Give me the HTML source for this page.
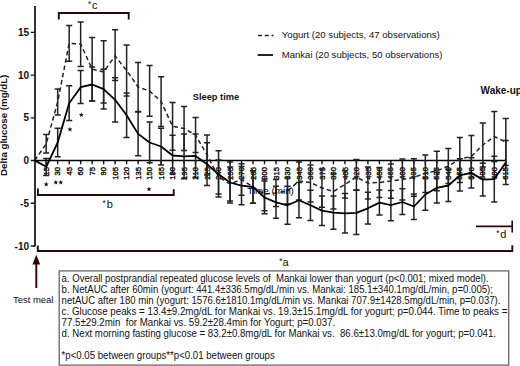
<!DOCTYPE html>
<html><head><meta charset="utf-8"><style>
html,body{margin:0;padding:0;background:#fff;}
body{width:520px;height:366px;overflow:hidden;position:relative;}
svg{position:absolute;left:0;top:0;font-family:"Liberation Sans",sans-serif;}
text{white-space:pre;}
</style></head><body>
<svg width="520" height="366" viewBox="0 0 520 366">
<g stroke="#000" stroke-width="1.6" fill="none">
<path d="M35 6V246.6M34.2 160.5H505.6"/>
</g>
<g stroke="#111" stroke-width="1.4" fill="none"><path d="M30.8 32.40H35M30.8 75.12H35M30.8 117.84H35M30.8 160.56H35M30.8 203.28H35M30.8 246.00H35M46.19 160.4V164.3M57.68 160.4V164.3M69.17 160.4V164.3M80.66 160.4V164.3M92.15 160.4V164.3M103.64 160.4V164.3M115.13 160.4V164.3M126.62 160.4V164.3M138.11 160.4V164.3M149.60 160.4V164.3M161.09 160.4V164.3M172.58 160.4V164.3M184.07 160.4V164.3M195.56 160.4V164.3M207.05 160.4V164.3M218.54 160.4V164.3M230.03 160.4V164.3M241.52 160.4V164.3M253.01 160.4V164.3M264.50 160.4V164.3M275.99 160.4V164.3M287.48 160.4V164.3M298.97 160.4V164.3M310.46 160.4V164.3M321.95 160.4V164.3M333.44 160.4V164.3M344.93 160.4V164.3M356.42 160.4V164.3M367.91 160.4V164.3M379.40 160.4V164.3M390.89 160.4V164.3M402.38 160.4V164.3M413.87 160.4V164.3M425.36 160.4V164.3M436.85 160.4V164.3M448.34 160.4V164.3M459.83 160.4V164.3M471.32 160.4V164.3M482.81 160.4V164.3M494.30 160.4V164.3M505.79 160.4V164.3"/></g>
<g font-weight="bold" font-size="10" fill="#111">
<text x="29" y="36.00" text-anchor="end">15</text>
<text x="29" y="78.72" text-anchor="end">10</text>
<text x="29" y="121.44" text-anchor="end">5</text>
<text x="29" y="164.16" text-anchor="end">0</text>
<text x="29" y="206.88" text-anchor="end">-5</text>
<text x="29" y="249.60" text-anchor="end">-10</text>
<text transform="translate(6.5,125.3) rotate(-90)" text-anchor="middle" font-size="9.7">Delta glucose (mg/dL)</text>
<text x="192.8" y="99.5" textLength="46.4" lengthAdjust="spacingAndGlyphs" font-size="9.6">Sleep time</text>
<text x="480.6" y="94" font-size="10">Wake-up</text>
</g>
<g font-size="7.6" fill="#111" stroke="#111" stroke-width="0.4">
<text transform="translate(48.79,167) rotate(-90)" text-anchor="end">15</text>
<text transform="translate(60.28,167) rotate(-90)" text-anchor="end">30</text>
<text transform="translate(71.77,167) rotate(-90)" text-anchor="end">45</text>
<text transform="translate(83.26,167) rotate(-90)" text-anchor="end">60</text>
<text transform="translate(94.75,167) rotate(-90)" text-anchor="end">75</text>
<text transform="translate(106.24,167) rotate(-90)" text-anchor="end">90</text>
<text transform="translate(117.73,167) rotate(-90)" text-anchor="end">105</text>
<text transform="translate(129.22,167) rotate(-90)" text-anchor="end">120</text>
<text transform="translate(140.71,167) rotate(-90)" text-anchor="end">135</text>
<text transform="translate(152.20,167) rotate(-90)" text-anchor="end">150</text>
<text transform="translate(163.69,167) rotate(-90)" text-anchor="end">165</text>
<text transform="translate(175.18,167) rotate(-90)" text-anchor="end">180</text>
<text transform="translate(186.67,167) rotate(-90)" text-anchor="end">195</text>
<text transform="translate(198.16,167) rotate(-90)" text-anchor="end">210</text>
<text transform="translate(209.65,167) rotate(-90)" text-anchor="end">225</text>
<text transform="translate(221.14,167) rotate(-90)" text-anchor="end">240</text>
<text transform="translate(232.63,167) rotate(-90)" text-anchor="end">255</text>
<text transform="translate(244.12,167) rotate(-90)" text-anchor="end">270</text>
<text transform="translate(255.61,167) rotate(-90)" text-anchor="end">285</text>
<text transform="translate(267.10,167) rotate(-90)" text-anchor="end">300</text>
<text transform="translate(278.59,167) rotate(-90)" text-anchor="end">315</text>
<text transform="translate(290.08,167) rotate(-90)" text-anchor="end">330</text>
<text transform="translate(301.57,167) rotate(-90)" text-anchor="end">345</text>
<text transform="translate(313.06,167) rotate(-90)" text-anchor="end">360</text>
<text transform="translate(324.55,167) rotate(-90)" text-anchor="end">375</text>
<text transform="translate(336.04,167) rotate(-90)" text-anchor="end">390</text>
<text transform="translate(347.53,167) rotate(-90)" text-anchor="end">405</text>
<text transform="translate(359.02,167) rotate(-90)" text-anchor="end">420</text>
<text transform="translate(370.51,167) rotate(-90)" text-anchor="end">435</text>
<text transform="translate(382.00,167) rotate(-90)" text-anchor="end">450</text>
<text transform="translate(393.49,167) rotate(-90)" text-anchor="end">465</text>
<text transform="translate(404.98,167) rotate(-90)" text-anchor="end">480</text>
<text transform="translate(416.47,167) rotate(-90)" text-anchor="end">495</text>
<text transform="translate(427.96,167) rotate(-90)" text-anchor="end">510</text>
<text transform="translate(439.45,167) rotate(-90)" text-anchor="end">525</text>
<text transform="translate(450.94,167) rotate(-90)" text-anchor="end">540</text>
<text transform="translate(462.43,167) rotate(-90)" text-anchor="end">555</text>
<text transform="translate(473.92,167) rotate(-90)" text-anchor="end">570</text>
<text transform="translate(485.41,167) rotate(-90)" text-anchor="end">585</text>
<text transform="translate(496.90,167) rotate(-90)" text-anchor="end">600</text>
<text transform="translate(508.39,167) rotate(-90)" text-anchor="end">615</text>
</g>
<g stroke="#222" stroke-width="1.5" fill="none">
<path d="M46.19 134.50V153.00M43.14 134.50h6.1M43.14 153.00h6.1"/>
<path d="M46.19 158.60V175.40M43.14 158.60h6.1M43.14 175.40h6.1"/>
<path d="M57.68 89.10V115.10M54.63 89.10h6.1M54.63 115.10h6.1"/>
<path d="M57.68 128.20V156.80M54.63 128.20h6.1M54.63 156.80h6.1"/>
<path d="M69.17 25.50V61.30M66.12 25.50h6.1M66.12 61.30h6.1"/>
<path d="M69.17 85.80V120.60M66.12 85.80h6.1M66.12 120.60h6.1"/>
<path d="M80.66 22.10V66.60M77.61 22.10h6.1M77.61 66.60h6.1"/>
<path d="M80.66 70.50V103.60M77.61 70.50h6.1M77.61 103.60h6.1"/>
<path d="M92.15 37.40V101.00M89.10 37.40h6.1M89.10 101.00h6.1"/>
<path d="M92.15 67.00V101.00M89.10 67.00h6.1M89.10 101.00h6.1"/>
<path d="M103.64 40.80V102.90M100.59 40.80h6.1M100.59 102.90h6.1"/>
<path d="M103.64 69.30V108.90M100.59 69.30h6.1M100.59 108.90h6.1"/>
<path d="M115.13 29.70V80.60M112.08 29.70h6.1M112.08 80.60h6.1"/>
<path d="M115.13 77.70V122.10M112.08 77.70h6.1M112.08 122.10h6.1"/>
<path d="M126.62 45.00V96.00M123.57 45.00h6.1M123.57 96.00h6.1"/>
<path d="M126.62 92.90V137.50M123.57 92.90h6.1M123.57 137.50h6.1"/>
<path d="M138.11 62.40V111.60M135.06 62.40h6.1M135.06 111.60h6.1"/>
<path d="M138.11 112.00V155.70M135.06 112.00h6.1M135.06 155.70h6.1"/>
<path d="M149.60 65.50V116.30M146.55 65.50h6.1M146.55 116.30h6.1"/>
<path d="M149.60 121.90V162.80M146.55 121.90h6.1M146.55 162.80h6.1"/>
<path d="M161.09 76.80V126.50M158.04 76.80h6.1M158.04 126.50h6.1"/>
<path d="M161.09 128.20V165.00M158.04 128.20h6.1M158.04 165.00h6.1"/>
<path d="M172.58 102.40V150.20M169.53 102.40h6.1M169.53 150.20h6.1"/>
<path d="M172.58 135.20V174.00M169.53 135.20h6.1M169.53 174.00h6.1"/>
<path d="M184.07 106.50V150.50M181.02 106.50h6.1M181.02 150.50h6.1"/>
<path d="M184.07 133.90V178.70M181.02 133.90h6.1M181.02 178.70h6.1"/>
<path d="M195.56 117.50V152.50M192.51 117.50h6.1M192.51 152.50h6.1"/>
<path d="M195.56 133.90V177.80M192.51 133.90h6.1M192.51 177.80h6.1"/>
<path d="M207.05 134.90V175.00M204.00 134.90h6.1M204.00 175.00h6.1"/>
<path d="M207.05 142.70V185.40M204.00 142.70h6.1M204.00 185.40h6.1"/>
<path d="M218.54 160.00V194.10M215.49 160.00h6.1M215.49 194.10h6.1"/>
<path d="M218.54 150.80V197.00M215.49 150.80h6.1M215.49 197.00h6.1"/>
<path d="M230.03 167.00V201.00M226.98 167.00h6.1M226.98 201.00h6.1"/>
<path d="M230.03 162.00V203.10M226.98 162.00h6.1M226.98 203.10h6.1"/>
<path d="M241.52 163.70V195.30M238.47 163.70h6.1M238.47 195.30h6.1"/>
<path d="M241.52 166.50V204.80M238.47 166.50h6.1M238.47 204.80h6.1"/>
<path d="M253.01 170.80V203.20M249.96 170.80h6.1M249.96 203.20h6.1"/>
<path d="M253.01 170.80V203.20M249.96 170.80h6.1M249.96 203.20h6.1"/>
<path d="M264.50 179.00V210.70M261.45 179.00h6.1M261.45 210.70h6.1"/>
<path d="M264.50 181.00V213.80M261.45 181.00h6.1M261.45 213.80h6.1"/>
<path d="M275.99 179.50V206.60M272.94 179.50h6.1M272.94 206.60h6.1"/>
<path d="M275.99 186.30V218.30M272.94 186.30h6.1M272.94 218.30h6.1"/>
<path d="M287.48 178.00V204.00M284.43 178.00h6.1M284.43 204.00h6.1"/>
<path d="M287.48 186.30V224.30M284.43 186.30h6.1M284.43 224.30h6.1"/>
<path d="M298.97 162.00V200.00M295.92 162.00h6.1M295.92 200.00h6.1"/>
<path d="M298.97 182.50V217.80M295.92 182.50h6.1M295.92 217.80h6.1"/>
<path d="M310.46 165.00V201.90M307.41 165.00h6.1M307.41 201.90h6.1"/>
<path d="M310.46 190.20V220.60M307.41 190.20h6.1M307.41 220.60h6.1"/>
<path d="M321.95 169.00V207.20M318.90 169.00h6.1M318.90 207.20h6.1"/>
<path d="M321.95 196.00V225.40M318.90 196.00h6.1M318.90 225.40h6.1"/>
<path d="M333.44 174.00V209.10M330.39 174.00h6.1M330.39 209.10h6.1"/>
<path d="M333.44 196.00V229.20M330.39 196.00h6.1M330.39 229.20h6.1"/>
<path d="M344.93 170.80V198.00M341.88 170.80h6.1M341.88 198.00h6.1"/>
<path d="M344.93 193.60V233.00M341.88 193.60h6.1M341.88 233.00h6.1"/>
<path d="M356.42 159.60V190.20M353.37 159.60h6.1M353.37 190.20h6.1"/>
<path d="M356.42 190.00V234.50M353.37 190.00h6.1M353.37 234.50h6.1"/>
<path d="M367.91 167.00V199.10M364.86 167.00h6.1M364.86 199.10h6.1"/>
<path d="M367.91 192.30V224.00M364.86 192.30h6.1M364.86 224.00h6.1"/>
<path d="M379.40 167.50V197.60M376.35 167.50h6.1M376.35 197.60h6.1"/>
<path d="M379.40 190.10V215.00M376.35 190.10h6.1M376.35 215.00h6.1"/>
<path d="M390.89 164.00V198.20M387.84 164.00h6.1M387.84 198.20h6.1"/>
<path d="M390.89 190.50V220.70M387.84 190.50h6.1M387.84 220.70h6.1"/>
<path d="M402.38 159.00V200.00M399.33 159.00h6.1M399.33 200.00h6.1"/>
<path d="M402.38 188.70V214.40M399.33 188.70h6.1M399.33 214.40h6.1"/>
<path d="M413.87 158.80V196.30M410.82 158.80h6.1M410.82 196.30h6.1"/>
<path d="M413.87 194.00V219.60M410.82 194.00h6.1M410.82 219.60h6.1"/>
<path d="M425.36 155.00V192.60M422.31 155.00h6.1M422.31 192.60h6.1"/>
<path d="M425.36 178.00V210.20M422.31 178.00h6.1M422.31 210.20h6.1"/>
<path d="M436.85 151.20V190.80M433.80 151.20h6.1M433.80 190.80h6.1"/>
<path d="M436.85 172.60V203.00M433.80 172.60h6.1M433.80 203.00h6.1"/>
<path d="M448.34 148.50V183.50M445.29 148.50h6.1M445.29 183.50h6.1"/>
<path d="M448.34 169.40V201.60M445.29 169.40h6.1M445.29 201.60h6.1"/>
<path d="M459.83 137.50V182.50M456.78 137.50h6.1M456.78 182.50h6.1"/>
<path d="M459.83 158.70V191.10M456.78 158.70h6.1M456.78 191.10h6.1"/>
<path d="M471.32 135.50V177.50M468.27 135.50h6.1M468.27 177.50h6.1"/>
<path d="M471.32 157.80V188.00M468.27 157.80h6.1M468.27 188.00h6.1"/>
<path d="M482.81 123.00V167.00M479.76 123.00h6.1M479.76 167.00h6.1"/>
<path d="M482.81 163.30V195.90M479.76 163.30h6.1M479.76 195.90h6.1"/>
<path d="M494.30 111.50V161.50M491.25 111.50h6.1M491.25 161.50h6.1"/>
<path d="M494.30 156.30V202.00M491.25 156.30h6.1M491.25 202.00h6.1"/>
<path d="M505.79 118.50V165.50M502.74 118.50h6.1M502.74 165.50h6.1"/>
<path d="M505.79 140.50V184.40M502.74 140.50h6.1M502.74 184.40h6.1"/>
</g>
<polyline points="34.70,160.40 46.19,144.00 57.68,102.00 69.17,43.40 80.66,44.00 92.15,69.20 103.64,71.85 115.13,56.00 126.62,70.50 138.11,87.00 149.60,91.00 161.09,101.50 172.58,126.30 184.07,128.50 195.56,135.00 207.05,155.00 218.54,177.00 230.03,184.00 241.52,179.50 253.01,187.00 264.50,194.00 275.99,193.00 287.48,191.00 298.97,181.00 310.46,182.50 321.95,188.00 333.44,191.50 344.93,184.40 356.42,177.00 367.91,183.00 379.40,182.50 390.89,181.00 402.38,179.50 413.87,177.50 425.36,173.00 436.85,171.00 448.34,166.00 459.83,159.00 471.32,156.50 482.81,145.00 494.30,136.50 505.79,142.00" fill="none" stroke="#222" stroke-width="1.5" stroke-dasharray="4.4,3"/>
<polyline points="34.70,160.40 46.19,166.80 57.68,142.50 69.17,103.20 80.66,87.20 92.15,84.50 103.64,89.10 115.13,99.80 126.62,115.20 138.11,133.90 149.60,142.50 161.09,146.50 172.58,155.50 184.07,156.30 195.56,155.90 207.05,164.20 218.54,174.20 230.03,182.50 241.52,185.70 253.01,187.00 264.50,197.50 275.99,202.30 287.48,205.30 298.97,200.20 310.46,205.30 321.95,210.60 333.44,212.60 344.93,213.30 356.42,212.90 367.91,208.30 379.40,202.60 390.89,205.20 402.38,202.00 413.87,206.50 425.36,194.50 436.85,187.80 448.34,185.50 459.83,175.40 471.32,172.90 482.81,179.60 494.30,179.10 505.79,162.40" fill="none" stroke="#000" stroke-width="1.8" stroke-linejoin="round"/>
<g font-size="9.6" fill="#000"><text x="247.3" y="193.6" textLength="46.6" lengthAdjust="spacingAndGlyphs">Time (min)</text></g>
<g fill="#111"><polygon points="46.20,181.70 46.84,183.42 48.67,183.50 47.24,184.64 47.73,186.40 46.20,185.39 44.67,186.40 45.16,184.64 43.73,183.50 45.56,183.42"/>
<polygon points="55.80,179.90 56.44,181.62 58.27,181.70 56.84,182.84 57.33,184.60 55.80,183.59 54.27,184.60 54.76,182.84 53.33,181.70 55.16,181.62"/>
<polygon points="60.80,179.90 61.44,181.62 63.27,181.70 61.84,182.84 62.33,184.60 60.80,183.59 59.27,184.60 59.76,182.84 58.33,181.70 60.16,181.62"/>
<polygon points="70.00,126.80 70.64,128.52 72.47,128.60 71.04,129.74 71.53,131.50 70.00,130.49 68.47,131.50 68.96,129.74 67.53,128.60 69.36,128.52"/>
<polygon points="81.30,112.40 81.94,114.12 83.77,114.20 82.34,115.34 82.83,117.10 81.30,116.09 79.77,117.10 80.26,115.34 78.83,114.20 80.66,114.12"/>
<polygon points="149.00,186.60 149.64,188.32 151.47,188.40 150.04,189.54 150.53,191.30 149.00,190.29 147.47,191.30 147.96,189.54 146.53,188.40 148.36,188.32"/></g>
<g stroke="#2b0808" stroke-width="1.9" fill="none">
<path d="M58.8 19.5V13H128.7V19.5M37.9 188.6V195H173.7V189.2M37.8 245.4V251H512.3V245.2M36.3 262V288"/>
</g>
<path d="M476 226.4H512.2M512.2 220.5V232.5" stroke="#2b0808" stroke-width="1.6" fill="none"/>
<polygon points="36.3,254.7 32.4,264.5 40.2,264.5" fill="#2b0808"/>
<g font-size="10" fill="#111">
<g font-size="8.5"><text x="88.0" y="6.6">*</text><text x="102.4" y="206.2">*</text><text x="279.2" y="263.6">*</text><text x="496.2" y="236.0">*</text></g>
<g font-size="11"><text x="91.9" y="8.7">c</text><text x="106.7" y="208">b</text><text x="282.6" y="265.7">a</text><text x="500.2" y="238">d</text></g>
<text x="12.9" y="302.9" textLength="40.6" lengthAdjust="spacingAndGlyphs" font-size="9.3">Test meal</text>
</g>
<g stroke="#222" stroke-width="1.5">
<path d="M258 35.4H273.6" stroke-dasharray="3.9,2.9"/>
<path d="M257.7 55H273" stroke-width="2"/>
</g>
<g font-size="9.5" fill="#111">
<text x="281.8" y="38.4" textLength="158.0" lengthAdjust="spacingAndGlyphs">Yogurt (20 subjects, 47 observations)</text>
<text x="281.8" y="57.5" textLength="160.6" lengthAdjust="spacingAndGlyphs">Mankai (20 subjects, 50 observations)</text>
</g>
<rect x="59.2" y="270.9" width="449.5" height="94.2" fill="none" stroke="#666" stroke-width="1.3"/>
<g font-size="9.55" fill="#111">
<text transform="translate(61.6,281.9) scale(1,1.1)" textLength="427.0" lengthAdjust="spacingAndGlyphs">a. Overall postprandial repeated glucose levels of  Mankai lower than yogurt (p&lt;0.001; mixed model).</text>
<text transform="translate(61.6,292.9) scale(1,1.1)" textLength="431.4" lengthAdjust="spacingAndGlyphs">b. NetAUC after 60min (yogurt: 441.4±336.5mg/dL/min vs. Mankai: 185.1±340.1mg/dL/min, p=0.005);</text>
<text transform="translate(61.6,303.7) scale(1,1.1)" textLength="438.8" lengthAdjust="spacingAndGlyphs">netAUC after 180 min (yogurt: 1576.6±1810.1mg/dL/min vs. Mankai 707.9±1428.5mg/dL/min, p=0.037).</text>
<text transform="translate(61.6,314.8) scale(1,1.1)" textLength="445.8" lengthAdjust="spacingAndGlyphs">c. Glucose peaks = 13.4±9.2mg/dL for Mankai vs. 19.3±15.1mg/dL for yogurt; p=0.044. Time to peaks =</text>
<text transform="translate(61.6,325.7) scale(1,1.1)" textLength="273.6" lengthAdjust="spacingAndGlyphs">77.5±29.2min  for Mankai vs. 59.2±28.4min for Yogurt; p=0.037.</text>
<text transform="translate(61.6,336.8) scale(1,1.1)" textLength="434.4" lengthAdjust="spacingAndGlyphs">d. Next morning fasting glucose = 83.2±0.8mg/dL for Mankai vs.  86.6±13.0mg/dL for yogurt; p=0.041.</text>
<text transform="translate(61.6,358.7) scale(1,1.1)" textLength="213.2" lengthAdjust="spacingAndGlyphs">*p&lt;0.05 between groups**p&lt;0.01 between groups</text>
</g>
</svg>
</body></html>
